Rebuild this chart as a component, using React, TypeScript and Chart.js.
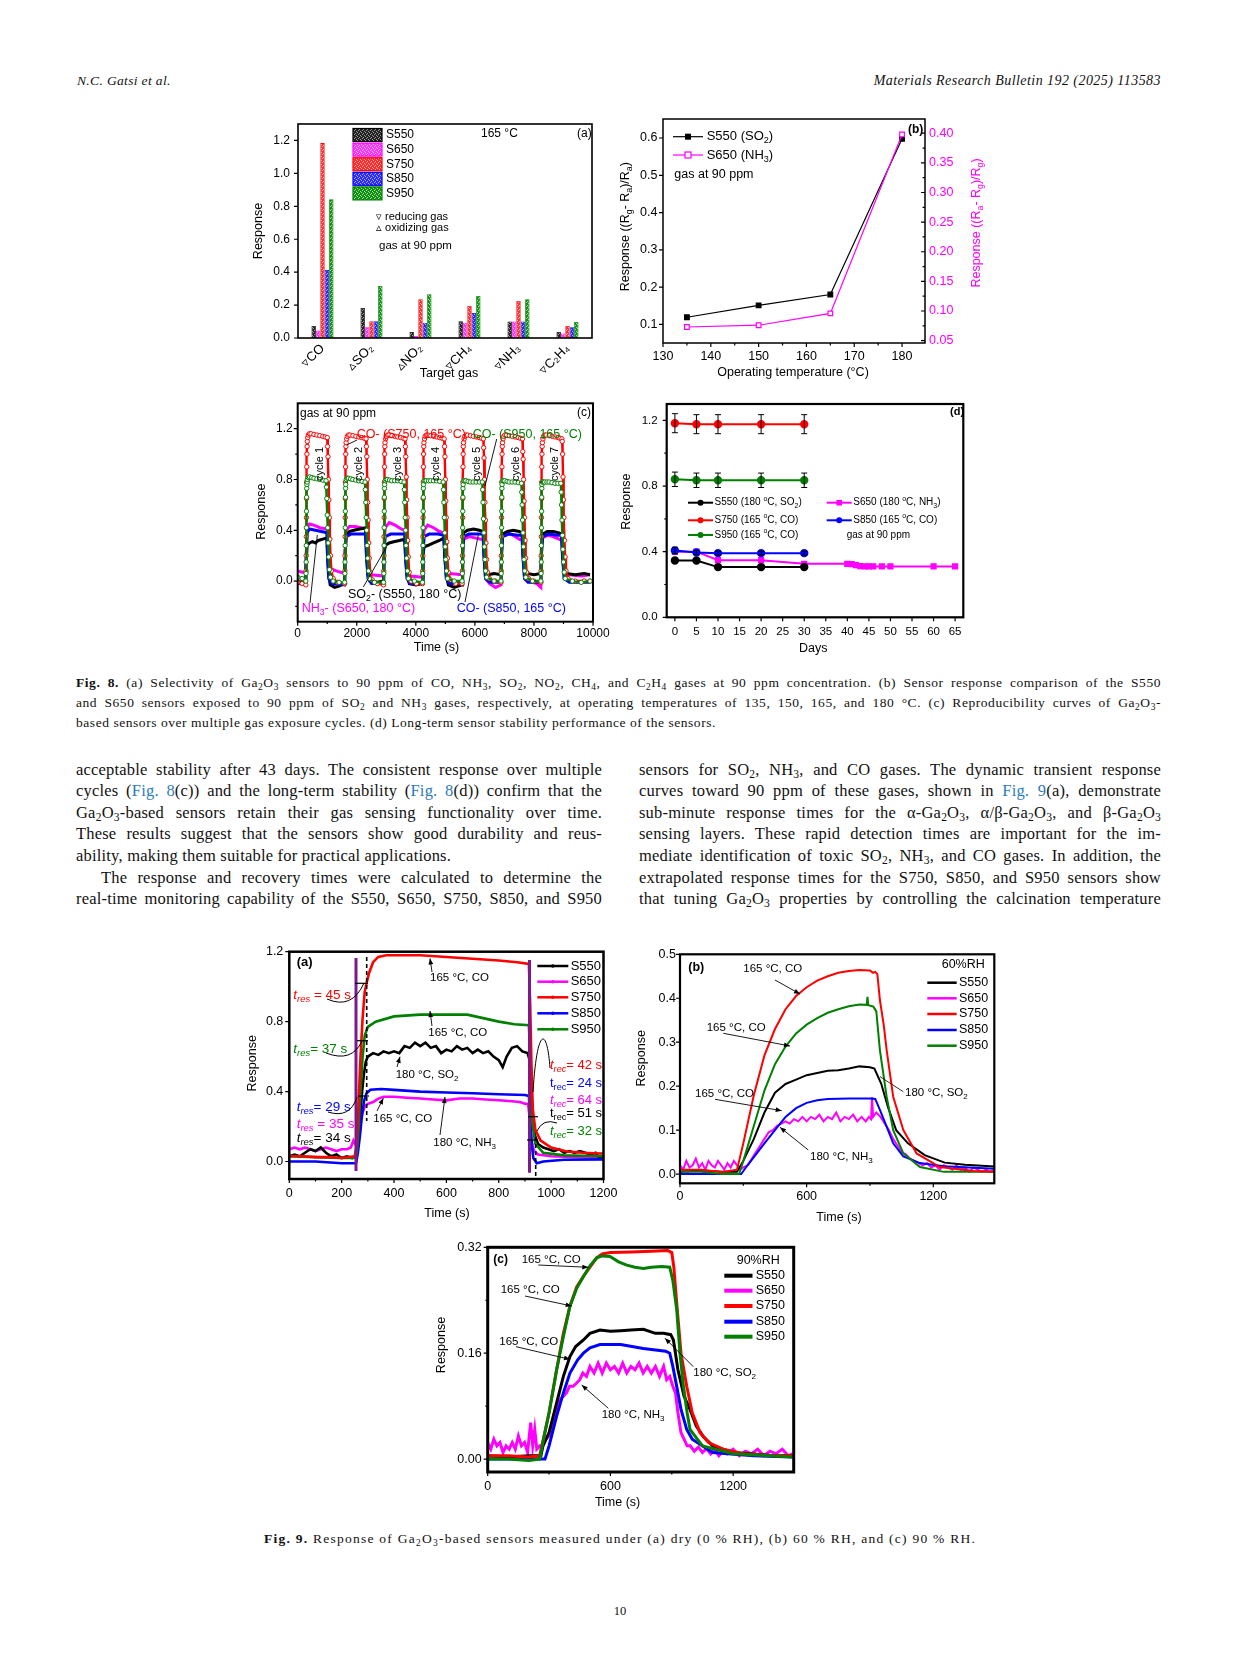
import React, { useEffect, useRef } from 'react';
import { Chart, registerables } from 'chart.js';
Chart.register(...registerables);

const SANS = '"Liberation Sans", Arial, Helvetica, sans-serif';
const SERIF = '"Liberation Serif", "Times New Roman", serif';
const BLK = '#000000', MAG = '#ff00ff', RED = '#ff0000', BLU = '#0000ff', GRN = '#008000', PUR = '#7a1a8c';

// ---------------- Fig 8(a) selectivity ----------------
const SAMPLES = ['S550', 'S650', 'S750', 'S850', 'S950'];
const GASES = ['\u25BFCO', '\u25B5SO\u2082', '\u25B5NO\u2082', '\u25BFCH\u2084', '\u25BFNH\u2083', '\u25BFC\u2082H\u2084'];
const SEL_S550 = [0.073, 0.182, 0.036, 0.101, 0.10, 0.036];
const SEL_S650 = [0.045, 0.065, 0.012, 0.093, 0.10, 0.028];
const SEL_S750 = [1.184, 0.101, 0.235, 0.195, 0.225, 0.073];
const SEL_S850 = [0.414, 0.101, 0.093, 0.152, 0.10, 0.065];
const SEL_S950 = [0.843, 0.316, 0.266, 0.255, 0.235, 0.097];
const BAR_FILL = ['#222222', '#ff33ff', '#ff2a2a', '#2a2aff', '#109010'];
const BAR_LIGHT = ['#9a9a9a', '#ffc0ff', '#ffb0b0', '#b0b0ff', '#a0d8a0'];
const BAR_EDGE = ['#000000', '#ff00ff', '#ff0000', '#0000ff', '#008000'];

// ---------------- Fig 8(b) temperature ----------------
const TEMPS = [135, 150, 165, 180];
const B_S550_SO2 = [0.119, 0.151, 0.18, 0.598];
const B_S650_NH3 = [0.073, 0.076, 0.096, 0.398];

// ---------------- Fig 8(c) cycles [time s, response] ----------------
const C_S750: number[][] = [
  [0,-0.01],[150,-0.02],[275,-0.03],[283,0.08],[287,0.2],[291,0.35],[295,0.5],[299,0.65],[303,0.78],[307,0.9],[312,1.0],[318,1.06],[325,1.1],[340,1.13],[360,1.15],[400,1.16],[450,1.16],[550,1.155],[650,1.15],[750,1.145],[850,1.14],[930,1.135],[1000,1.13],[1012,1.06],[1025,0.98],[1040,0.8],[1055,0.64],[1070,0.5],[1090,0.33],[1110,0.2],[1140,0.08],[1200,0.02],[1350,-0.01],[1590,-0.02],
  [1598,0.08],[1602,0.2],[1606,0.35],[1610,0.5],[1614,0.65],[1618,0.78],[1622,0.9],[1627,1.0],[1633,1.06],[1640,1.09],[1660,1.12],[1680,1.14],[1720,1.15],[1770,1.15],[1870,1.145],[1970,1.14],[2070,1.135],[2170,1.13],[2250,1.125],[2315,1.12],[2327,1.06],[2340,0.98],[2355,0.8],[2370,0.62],[2385,0.48],[2405,0.3],[2425,0.18],[2455,0.07],[2520,0.01],[2700,-0.02],[2908,-0.03],
  [2916,0.08],[2920,0.2],[2924,0.35],[2928,0.5],[2932,0.65],[2936,0.78],[2940,0.9],[2945,1.0],[2951,1.06],[2958,1.09],[2978,1.12],[3000,1.14],[3040,1.15],[3090,1.15],[3190,1.145],[3290,1.14],[3390,1.135],[3490,1.13],[3570,1.125],[3635,1.12],[3647,1.06],[3660,0.98],[3675,0.82],[3690,0.64],[3705,0.5],[3725,0.32],[3745,0.19],[3775,0.07],[3840,0.0],[4020,-0.02],[4225,-0.02],
  [4233,0.08],[4237,0.2],[4241,0.35],[4245,0.5],[4249,0.65],[4253,0.78],[4257,0.9],[4262,1.0],[4268,1.06],[4275,1.09],[4295,1.12],[4317,1.14],[4357,1.15],[4407,1.15],[4507,1.145],[4607,1.14],[4707,1.135],[4807,1.13],[4890,1.125],[4960,1.12],[4972,1.06],[4985,0.98],[5000,0.8],[5015,0.63],[5030,0.5],[5050,0.31],[5070,0.18],[5100,0.07],[5170,0.01],[5350,-0.02],[5566,-0.02],
  [5574,0.08],[5578,0.2],[5582,0.35],[5586,0.5],[5590,0.65],[5594,0.78],[5598,0.9],[5603,1.0],[5609,1.06],[5616,1.09],[5636,1.12],[5658,1.14],[5698,1.15],[5748,1.15],[5848,1.145],[5948,1.14],[6048,1.135],[6148,1.13],[6220,1.125],[6285,1.12],[6297,1.05],[6310,0.97],[6325,0.8],[6340,0.62],[6355,0.48],[6375,0.3],[6395,0.17],[6425,0.07],[6490,0.02],[6680,0.0],[6884,-0.01],
  [6892,0.08],[6896,0.2],[6900,0.35],[6904,0.5],[6908,0.65],[6912,0.78],[6916,0.9],[6921,1.0],[6927,1.06],[6934,1.09],[6954,1.12],[6976,1.14],[7016,1.15],[7066,1.15],[7166,1.145],[7266,1.14],[7366,1.135],[7466,1.13],[7540,1.125],[7610,1.12],[7622,1.02],[7635,0.96],[7650,0.8],[7665,0.63],[7680,0.5],[7700,0.32],[7720,0.18],[7750,0.07],[7815,0.02],[8000,0.0],[8235,-0.01],
  [8243,0.08],[8247,0.2],[8251,0.35],[8255,0.5],[8259,0.65],[8263,0.78],[8267,0.9],[8272,1.0],[8278,1.06],[8285,1.09],[8305,1.12],[8327,1.14],[8367,1.15],[8417,1.15],[8517,1.145],[8617,1.14],[8717,1.135],[8817,1.13],[8880,1.125],[8945,1.12],[8957,1.1],[8970,1.0],[8985,0.82],[9000,0.64],[9015,0.5],[9035,0.32],[9055,0.19],[9085,0.08],[9150,0.02],[9400,0.0],[9700,0.0],[9900,0.0],
];
const C_S950: number[][] = [
  [0,0.03],[150,0.02],[275,0.0],[282,0.06],[286,0.15],[290,0.28],[294,0.42],[298,0.55],[302,0.66],[306,0.73],[310,0.76],[320,0.78],[330,0.8],[360,0.815],[400,0.82],[475,0.815],[550,0.81],[650,0.805],[750,0.8],[850,0.795],[960,0.79],[972,0.74],[985,0.65],[1000,0.52],[1015,0.42],[1030,0.3],[1050,0.19],[1075,0.09],[1110,0.03],[1200,0.0],[1400,-0.01],[1590,-0.01],
  [1598,0.06],[1602,0.15],[1606,0.28],[1610,0.42],[1614,0.55],[1618,0.66],[1622,0.73],[1626,0.76],[1646,0.8],[1680,0.81],[1716,0.81],[1790,0.805],[1866,0.8],[1966,0.795],[2066,0.79],[2180,0.785],[2280,0.78],[2292,0.72],[2305,0.62],[2320,0.5],[2335,0.4],[2350,0.28],[2370,0.18],[2395,0.08],[2430,0.02],[2600,-0.01],[2908,-0.01],
  [2916,0.06],[2920,0.15],[2924,0.28],[2928,0.42],[2932,0.55],[2936,0.66],[2940,0.73],[2944,0.76],[2964,0.79],[3000,0.8],[3034,0.8],[3110,0.795],[3184,0.79],[3284,0.79],[3384,0.79],[3500,0.785],[3600,0.78],[3612,0.72],[3625,0.62],[3640,0.5],[3655,0.4],[3670,0.28],[3690,0.18],[3715,0.08],[3750,0.02],[3950,0.0],[4225,-0.01],
  [4233,0.06],[4237,0.15],[4241,0.28],[4245,0.42],[4249,0.55],[4253,0.66],[4257,0.73],[4261,0.76],[4281,0.79],[4315,0.79],[4351,0.79],[4430,0.79],[4501,0.79],[4600,0.79],[4701,0.79],[4810,0.785],[4925,0.78],[4937,0.72],[4950,0.62],[4965,0.5],[4980,0.38],[4995,0.27],[5015,0.17],[5040,0.08],[5075,0.02],[5300,0.0],[5566,0.0],
  [5574,0.06],[5578,0.15],[5582,0.28],[5586,0.42],[5590,0.55],[5594,0.66],[5598,0.73],[5602,0.76],[5622,0.79],[5660,0.79],[5692,0.79],[5770,0.785],[5842,0.78],[5940,0.78],[6042,0.78],[6150,0.78],[6250,0.78],[6262,0.72],[6275,0.62],[6290,0.49],[6305,0.38],[6320,0.27],[6340,0.17],[6365,0.08],[6400,0.03],[6650,0.0],[6884,0.0],
  [6892,0.06],[6896,0.15],[6900,0.28],[6904,0.42],[6908,0.55],[6912,0.66],[6916,0.73],[6920,0.76],[6940,0.79],[6975,0.79],[7010,0.79],[7090,0.785],[7160,0.78],[7260,0.78],[7360,0.78],[7470,0.775],[7575,0.77],[7587,0.7],[7600,0.6],[7615,0.48],[7630,0.38],[7645,0.27],[7665,0.17],[7690,0.08],[7725,0.03],[7950,0.0],[8235,0.0],
  [8243,0.06],[8247,0.15],[8251,0.28],[8255,0.42],[8259,0.55],[8263,0.66],[8267,0.73],[8271,0.76],[8291,0.78],[8325,0.78],[8361,0.78],[8440,0.78],[8511,0.78],[8610,0.775],[8711,0.77],[8810,0.77],[8910,0.77],[8922,0.7],[8935,0.6],[8950,0.48],[8965,0.36],[8980,0.25],[9000,0.15],[9025,0.07],[9060,0.02],[9300,0.0],[9600,-0.01],[9900,0.0],
];
const C_S550: number[][] = [
  [0,0.0],[150,-0.01],[275,0.0],[290,0.15],[320,0.28],[400,0.3],[500,0.31],[600,0.3],[700,0.32],[850,0.33],[990,0.34],[1010,0.2],[1050,0.05],[1100,-0.03],[1250,-0.05],[1400,-0.04],[1590,-0.02],
  [1605,0.2],[1640,0.36],[1750,0.39],[1900,0.4],[2100,0.41],[2300,0.42],[2330,0.2],[2380,0.05],[2450,0.0],[2700,-0.01],[2908,0.0],
  [2925,0.2],[2960,0.28],[3100,0.3],[3250,0.31],[3450,0.32],[3625,0.33],[3650,0.2],[3700,0.05],[3780,-0.02],[4000,-0.03],[4225,-0.02],
  [4242,0.2],[4280,0.27],[4400,0.28],[4600,0.3],[4800,0.32],[4950,0.34],[4980,0.2],[5030,0.05],[5100,-0.03],[5300,-0.05],[5566,-0.03],
  [5585,0.25],[5620,0.38],[5750,0.4],[5950,0.41],[6150,0.4],[6280,0.39],[6310,0.22],[6360,0.08],[6450,0.05],[6650,0.06],[6884,0.05],
  [6903,0.25],[6940,0.37],[7100,0.39],[7300,0.4],[7500,0.39],[7600,0.38],[7630,0.22],[7680,0.08],[7760,0.06],[8000,0.05],[8235,0.06],
  [8253,0.25],[8290,0.37],[8450,0.39],[8650,0.39],[8850,0.38],[8940,0.37],[8970,0.22],[9020,0.08],[9100,0.06],[9400,0.05],[9700,0.06],[9900,0.05],
];
const C_S650: number[][] = [
  [0,0.08],[150,0.07],[270,0.07],[290,0.2],[320,0.42],[400,0.45],[550,0.44],[750,0.42],[990,0.41],[1010,0.25],[1050,0.12],[1100,0.1],[1300,0.08],[1590,0.06],
  [1605,0.25],[1640,0.4],[1750,0.43],[1950,0.43],[2150,0.42],[2300,0.41],[2330,0.25],[2380,0.08],[2500,0.05],[2908,0.04],
  [2925,0.25],[2960,0.42],[3100,0.46],[3300,0.44],[3500,0.41],[3625,0.4],[3650,0.25],[3700,0.08],[3800,0.04],[4225,0.03],
  [4242,0.25],[4280,0.4],[4400,0.44],[4600,0.42],[4800,0.39],[4950,0.38],[4980,0.22],[5030,0.08],[5150,0.06],[5566,0.05],
  [5585,0.22],[5620,0.33],[5800,0.35],[6000,0.34],[6200,0.33],[6280,0.33],[6310,0.18],[6360,0.02],[6500,-0.02],[6700,-0.05],[6884,-0.03],
  [6903,0.22],[6940,0.36],[7100,0.38],[7300,0.36],[7500,0.33],[7600,0.32],[7630,0.18],[7680,0.03],[7800,0.0],[8100,-0.02],[8235,-0.05],
  [8253,0.22],[8290,0.34],[8450,0.36],[8650,0.35],[8850,0.33],[8940,0.32],[8970,0.18],[9020,0.06],[9200,0.05],[9600,0.04],[9900,0.05],
];
const C_S850: number[][] = [
  [0,-0.02],[270,-0.02],[290,0.2],[320,0.38],[400,0.41],[600,0.4],[800,0.39],[990,0.38],[1010,0.2],[1050,0.02],[1150,-0.02],[1590,-0.03],
  [1605,0.2],[1640,0.35],[1800,0.37],[2100,0.37],[2300,0.37],[2330,0.2],[2380,0.02],[2500,-0.02],[2908,-0.02],
  [2925,0.2],[2960,0.35],[3150,0.37],[3450,0.37],[3625,0.37],[3650,0.2],[3700,0.02],[3800,-0.02],[4225,-0.02],
  [4242,0.2],[4280,0.35],[4450,0.37],[4750,0.37],[4950,0.36],[4980,0.2],[5030,0.02],[5150,-0.02],[5566,-0.02],
  [5585,0.2],[5620,0.35],[5800,0.37],[6100,0.37],[6280,0.37],[6310,0.2],[6360,0.02],[6500,-0.01],[6884,-0.01],
  [6903,0.2],[6940,0.35],[7150,0.37],[7450,0.36],[7600,0.36],[7630,0.2],[7680,0.02],[7800,-0.01],[8235,-0.01],
  [8253,0.2],[8290,0.35],[8500,0.37],[8800,0.36],[8940,0.36],[8970,0.2],[9020,0.02],[9200,-0.01],[9900,-0.01],
];

// ---------------- Fig 8(d) stability ----------------
const DAYS = [0, 5, 10, 20, 30];
const D_S750 = [1.183, 1.177, 1.177, 1.177, 1.177];
const D_S750_ERR = [0.058, 0.058, 0.058, 0.058, 0.058];
const D_S950 = [0.841, 0.835, 0.835, 0.835, 0.835];
const D_S950_ERR = [0.044, 0.044, 0.044, 0.044, 0.044];
const D_S850 = [0.407, 0.395, 0.391, 0.391, 0.391];
const D_S850_ERR = [0.02, 0.012, 0.012, 0.012, 0.012];
const D_S550 = [0.346, 0.346, 0.306, 0.306, 0.306];
const DAYS_S650 = [0, 5, 10, 20, 30, 40, 41, 42, 43, 44, 45, 46, 48, 50, 60, 65];
const D_S650 = [0.40, 0.40, 0.348, 0.348, 0.326, 0.326, 0.324, 0.318, 0.312, 0.31, 0.31, 0.31, 0.31, 0.31, 0.31, 0.31];

// ---------------- Fig 9(a) dry ----------------
const A_S550: number[][] = [[0,0.03],[20,0.04],[40,0.03],[60,0.05],[80,0.07],[100,0.06],[120,0.08],[140,0.05],[160,0.03],[180,0.04],[200,0.02],[220,0.03],[240,0.02],[255,0.03],[262,0.1],[270,0.25],[278,0.4],[285,0.5],[292,0.57],[300,0.6],[320,0.62],[340,0.61],[360,0.63],[380,0.62],[400,0.63],[420,0.62],[440,0.66],[460,0.65],[480,0.68],[500,0.66],[520,0.68],[540,0.65],[560,0.66],[580,0.62],[600,0.64],[620,0.63],[640,0.66],[660,0.64],[680,0.65],[700,0.62],[720,0.64],[740,0.62],[760,0.63],[780,0.6],[800,0.58],[815,0.54],[830,0.6],[850,0.65],[870,0.66],[890,0.63],[910,0.62],[918,0.58],[924,0.4],[930,0.25],[938,0.15],[950,0.1],[970,0.08],[990,0.07],[1010,0.06],[1030,0.07],[1050,0.05],[1070,0.06],[1090,0.05],[1110,0.06],[1130,0.05],[1150,0.04],[1170,0.05],[1185,0.02],[1200,0.03]];
const A_S650: number[][] = [[0,0.07],[20,0.08],[40,0.07],[60,0.08],[80,0.07],[100,0.06],[120,0.07],[140,0.08],[160,0.07],[180,0.06],[200,0.07],[220,0.07],[235,0.08],[245,0.12],[252,0.1],[260,0.15],[270,0.22],[280,0.28],[290,0.32],[300,0.33],[320,0.34],[340,0.36],[360,0.37],[400,0.37],[450,0.365],[500,0.36],[550,0.355],[600,0.35],[650,0.36],[700,0.36],[750,0.355],[800,0.35],[850,0.345],[880,0.34],[900,0.33],[912,0.33],[918,0.25],[925,0.12],[935,0.06],[950,0.04],[1000,0.03],[1100,0.025],[1200,0.02]];
const A_S750: number[][] = [[0,0.03],[50,0.03],[100,0.025],[150,0.025],[200,0.02],[250,0.03],[258,0.1],[265,0.35],[272,0.6],[280,0.82],[288,0.97],[295,1.02],[305,1.08],[320,1.14],[340,1.17],[370,1.18],[420,1.18],[500,1.18],[600,1.17],[700,1.16],[800,1.15],[870,1.14],[915,1.13],[920,0.9],[925,0.55],[930,0.3],[940,0.18],[960,0.12],[1000,0.08],[1060,0.057],[1120,0.05],[1187,0.046],[1200,0.045]];
const A_S850: number[][] = [[0,0.0],[100,0.0],[200,-0.01],[255,-0.01],[262,0.05],[270,0.15],[278,0.27],[286,0.35],[295,0.39],[310,0.41],[350,0.415],[400,0.41],[500,0.40],[600,0.395],[700,0.39],[800,0.385],[900,0.38],[915,0.375],[920,0.25],[926,0.1],[932,0.02],[945,-0.01],[970,0.0],[1050,0.01],[1200,0.012]];
const A_S950: number[][] = [[0,0.03],[100,0.025],[200,0.02],[252,0.02],[258,0.05],[265,0.2],[272,0.4],[280,0.6],[288,0.72],[300,0.77],[330,0.8],[400,0.83],[500,0.84],[600,0.84],[680,0.84],[740,0.82],[800,0.8],[860,0.785],[915,0.78],[920,0.6],[925,0.35],[930,0.2],[940,0.1],[970,0.05],[1050,0.035],[1200,0.03]];

// ---------------- Fig 9(b) 60 % RH ----------------
const B9_S550: number[][] = [[0,0.005],[100,0.008],[200,0.005],[270,0.005],[300,0.03],[350,0.08],[400,0.14],[450,0.185],[500,0.205],[550,0.215],[600,0.225],[650,0.23],[700,0.235],[750,0.236],[800,0.24],[850,0.245],[900,0.243],[921,0.24],[953,0.206],[985,0.153],[1024,0.1],[1080,0.07],[1159,0.043],[1254,0.026],[1350,0.021],[1490,0.017]];
const B9_S650: number[][] = [[0,0.02],[15,0.01],[30,0.03],[45,0.015],[60,0.02],[75,0.035],[90,0.015],[105,0.025],[120,0.01],[135,0.03],[150,0.02],[165,0.015],[180,0.03],[195,0.02],[210,0.01],[225,0.025],[240,0.015],[255,0.03],[270,0.02],[285,0.01],[300,0.015],[320,0.02],[340,0.035],[360,0.05],[380,0.065],[400,0.08],[420,0.095],[440,0.1],[460,0.11],[480,0.115],[500,0.12],[520,0.115],[540,0.125],[560,0.12],[580,0.13],[600,0.12],[620,0.13],[640,0.125],[660,0.135],[680,0.12],[700,0.13],[720,0.125],[740,0.14],[760,0.12],[780,0.13],[800,0.125],[820,0.135],[840,0.12],[860,0.13],[880,0.12],[895,0.13],[905,0.125],[910,0.175],[915,0.13],[930,0.14],[950,0.13],[970,0.115],[990,0.1],[1010,0.08],[1030,0.065],[1050,0.05],[1070,0.045],[1090,0.035],[1110,0.03],[1130,0.025],[1150,0.02],[1170,0.025],[1190,0.015],[1210,0.02],[1230,0.01],[1250,0.02],[1270,0.015],[1290,0.01],[1310,0.02],[1330,0.01],[1350,0.015],[1370,0.005],[1390,0.015],[1410,0.01],[1430,0.005],[1450,0.01],[1470,0.005],[1490,0.01]];
const B9_S750: number[][] = [[0,0.01],[100,0.01],[200,0.005],[270,0.01],[300,0.07],[350,0.18],[400,0.27],[450,0.33],[500,0.375],[550,0.405],[600,0.425],[650,0.44],[700,0.45],[750,0.458],[800,0.462],[850,0.464],[900,0.463],[915,0.458],[925,0.46],[935,0.455],[947,0.396],[965,0.34],[979,0.282],[1010,0.176],[1058,0.1],[1121,0.047],[1231,0.016],[1389,0.007],[1490,0.005]];
const B9_S850: number[][] = [[0,0.0],[100,0.0],[200,0.0],[290,0.0],[320,0.02],[360,0.045],[400,0.07],[450,0.1],[500,0.13],[550,0.15],[600,0.162],[650,0.168],[700,0.171],[800,0.172],[900,0.172],[925,0.171],[947,0.146],[979,0.108],[1010,0.07],[1058,0.04],[1137,0.025],[1250,0.018],[1490,0.012]];
const B9_S950: number[][] = [[0,0.005],[100,0.005],[200,0.0],[280,0.0],[300,0.03],[350,0.11],[400,0.19],[450,0.25],[500,0.29],[550,0.32],[600,0.34],[650,0.355],[700,0.367],[750,0.375],[800,0.382],[850,0.386],[885,0.385],[888,0.403],[892,0.384],[916,0.381],[930,0.37],[947,0.282],[979,0.176],[1010,0.1],[1058,0.047],[1137,0.016],[1250,0.005],[1490,0.005]];

// ---------------- Fig 9(c) 90 % RH ----------------
const C9_S550: number[][] = [[0,0.005],[100,0.003],[200,0.005],[260,0.005],[270,0.02],[300,0.04],[337,0.085],[370,0.125],[402,0.155],[430,0.17],[468,0.18],[500,0.19],[549,0.195],[600,0.193],[650,0.194],[700,0.195],[761,0.196],[820,0.19],[860,0.19],[895,0.188],[908,0.18],[930,0.135],[960,0.095],[989,0.075],[1020,0.05],[1054,0.034],[1100,0.02],[1200,0.01],[1400,0.005],[1490,0.005]];
const C9_S650: number[][] = [[0,0.025],[15,0.015],[30,0.03],[45,0.02],[60,0.025],[75,0.01],[90,0.02],[105,0.015],[120,0.025],[135,0.015],[150,0.035],[165,0.02],[180,0.025],[195,0.01],[210,0.055],[220,0.02],[230,0.045],[240,0.015],[255,0.02],[270,0.02],[285,0.03],[300,0.035],[315,0.05],[330,0.06],[353,0.09],[370,0.095],[385,0.1],[400,0.11],[418,0.11],[435,0.115],[450,0.12],[465,0.13],[483,0.125],[500,0.14],[520,0.13],[540,0.145],[560,0.13],[580,0.145],[600,0.135],[620,0.14],[640,0.13],[660,0.145],[680,0.13],[700,0.14],[720,0.135],[740,0.145],[760,0.13],[780,0.14],[800,0.13],[820,0.14],[840,0.125],[860,0.14],[875,0.12],[890,0.125],[905,0.11],[918,0.1],[930,0.07],[945,0.04],[960,0.03],[975,0.02],[990,0.02],[1010,0.012],[1030,0.018],[1050,0.01],[1070,0.016],[1090,0.008],[1110,0.015],[1130,0.005],[1150,0.012],[1170,0.008],[1200,0.015],[1230,0.005],[1260,0.012],[1290,0.008],[1320,0.015],[1350,0.005],[1380,0.012],[1410,0.008],[1440,0.015],[1470,0.005],[1490,0.008]];
const C9_S750: number[][] = [[0,0.005],[100,0.005],[200,0.003],[254,0.005],[272,0.03],[300,0.07],[337,0.135],[370,0.19],[402,0.231],[435,0.26],[468,0.276],[500,0.29],[533,0.304],[560,0.31],[600,0.312],[700,0.313],[800,0.314],[880,0.315],[900,0.312],[910,0.29],[924,0.236],[945,0.16],[973,0.11],[1000,0.07],[1038,0.04],[1080,0.025],[1150,0.015],[1250,0.008],[1400,0.005],[1490,0.005]];
const C9_S850: number[][] = [[0,0.0],[100,0.0],[200,0.0],[280,0.0],[300,0.02],[337,0.065],[370,0.1],[402,0.13],[440,0.15],[468,0.16],[500,0.168],[549,0.173],[650,0.173],[761,0.167],[870,0.163],[890,0.16],[905,0.14],[924,0.11],[945,0.075],[973,0.045],[1000,0.03],[1100,0.01],[1300,0.005],[1490,0.003]];
const C9_S950: number[][] = [[0,0.0],[100,0.0],[200,-0.002],[254,0.0],[272,0.029],[300,0.07],[337,0.135],[370,0.185],[402,0.231],[435,0.258],[468,0.276],[500,0.292],[533,0.304],[560,0.307],[598,0.306],[640,0.298],[680,0.293],[720,0.29],[761,0.288],[800,0.29],[850,0.291],[890,0.29],[905,0.27],[924,0.226],[940,0.16],[957,0.11],[975,0.07],[989,0.045],[1050,0.02],[1200,0.008],[1490,0.003]];

// ---------------- page text ----------------
const HEADER_L = 'N.C. Gatsi et al.';
const HEADER_R = 'Materials Research Bulletin 192 (2025) 113583';
const CAP8 = [
  '**Fig. 8.** (a) Selectivity of Ga_{2}O_{3} sensors to 90 ppm of CO, NH_{3}, SO_{2}, NO_{2}, CH_{4}, and C_{2}H_{4} gases at 90 ppm concentration. (b) Sensor response comparison of the S550',
  'and S650 sensors exposed to 90 ppm of SO_{2} and NH_{3} gases, respectively, at operating temperatures of 135, 150, 165, and 180 °C. (c) Reproducibility curves of Ga_{2}O_{3}-',
  'based sensors over multiple gas exposure cycles. (d) Long-term sensor stability performance of the sensors.',
];
const BODY_L = [
  'acceptable stability after 43 days. The consistent response over multiple',
  'cycles ([[Fig. 8]](c)) and the long-term stability ([[Fig. 8]](d)) confirm that the',
  'Ga_{2}O_{3}-based sensors retain their gas sensing functionality over time.',
  'These results suggest that the sensors show good durability and reus-',
  'ability, making them suitable for practical applications.',
  'The response and recovery times were calculated to determine the',
  'real-time monitoring capability of the S550, S650, S750, S850, and S950',
];
const BODY_R = [
  'sensors for SO_{2}, NH_{3}, and CO gases. The dynamic transient response',
  'curves toward 90 ppm of these gases, shown in [[Fig. 9]](a), demonstrate',
  'sub-minute response times for the α-Ga_{2}O_{3}, α/β-Ga_{2}O_{3}, and β-Ga_{2}O_{3}',
  'sensing layers. These rapid detection times are important for the im-',
  'mediate identification of toxic SO_{2}, NH_{3}, and CO gases. In addition, the',
  'extrapolated response times for the S750, S850, and S950 sensors show',
  'that tuning Ga_{2}O_{3} properties by controlling the calcination temperature',
];
const CAP9 = '**Fig. 9.** Response of Ga_{2}O_{3}-based sensors measured under (a) dry (0 % RH), (b) 60 % RH, and (c) 90 % RH.';

// ---------------- drawing helpers ----------------
function parseRich(s: string) {
  const segs: any[] = [];
  let buf = '';
  let i = 0;
  const flush = () => { if (buf) segs.push({ t: buf, m: 'n', it: false }); buf = ''; };
  while (i < s.length) {
    const c = s[i];
    if ('_^~='.includes(c) && s[i + 1] === '{') {
      flush();
      const e = s.indexOf('}', i + 2);
      const inner = s.slice(i + 2, e);
      segs.push({ t: inner, m: c === '_' || c === '=' ? 'sub' : c === '^' ? 'sup' : 'n', it: c === '~' || c === '=' });
      i = e + 1;
    } else { buf += c; i++; }
  }
  flush();
  return segs;
}

function drawRich(ctx: any, s: string, x: number, y: number, o: any) {
  const size = o.size || 12;
  const fam = o.fam || SANS;
  const segs = parseRich(s);
  const font = (sg: any) => `${sg.it ? 'italic ' : ''}${o.bold ? 'bold ' : ''}${sg.m === 'n' ? size : size * 0.7}px ${fam}`;
  let w = 0;
  for (const sg of segs) { ctx.font = font(sg); sg.w = ctx.measureText(sg.t).width; w += sg.w; }
  ctx.save();
  ctx.translate(x, y);
  if (o.rot) ctx.rotate(o.rot);
  let cx = o.align === 'center' ? -w / 2 : o.align === 'right' ? -w : 0;
  ctx.fillStyle = o.color || '#000';
  ctx.textBaseline = 'middle';
  ctx.textAlign = 'left';
  for (const sg of segs) {
    ctx.font = font(sg);
    const dy = sg.m === 'sub' ? size * 0.32 : sg.m === 'sup' ? -size * 0.38 : 0;
    ctx.fillText(sg.t, cx, dy);
    cx += sg.w;
  }
  ctx.restore();
}

function drawItem(ctx: any, it: any, ox: number, oy: number) {
  ctx.save();
  const col = it.color || '#000';
  if (it.t === 'text') {
    drawRich(ctx, it.s, it.x - ox, it.y - oy, it);
  } else if (it.t === 'line') {
    ctx.strokeStyle = col; ctx.lineWidth = it.w || 1;
    if (it.dash) ctx.setLineDash(it.dash);
    ctx.beginPath();
    it.pts.forEach((p: number[], i: number) => (i ? ctx.lineTo(p[0] - ox, p[1] - oy) : ctx.moveTo(p[0] - ox, p[1] - oy)));
    ctx.stroke();
    if (it.arrow) {
      const n = it.pts.length;
      const [x1, y1] = it.pts[n - 2];
      const [x2, y2] = it.pts[n - 1];
      const a = Math.atan2(y2 - y1, x2 - x1);
      const L = it.hl || 6, W = it.hw || 2.4;
      const ex = x2 - ox, ey = y2 - oy;
      ctx.setLineDash([]);
      ctx.fillStyle = col;
      ctx.beginPath();
      ctx.moveTo(ex, ey);
      ctx.lineTo(ex - L * Math.cos(a) + W * Math.sin(a), ey - L * Math.sin(a) - W * Math.cos(a));
      ctx.lineTo(ex - L * Math.cos(a) - W * Math.sin(a), ey - L * Math.sin(a) + W * Math.cos(a));
      ctx.closePath();
      ctx.fill();
    }
  } else if (it.t === 'curve') {
    ctx.strokeStyle = col; ctx.lineWidth = it.w || 1;
    const p = it.pts.map((q: number[]) => [q[0] - ox, q[1] - oy]);
    ctx.beginPath();
    ctx.moveTo(p[0][0], p[0][1]);
    if (p.length === 3) ctx.quadraticCurveTo(p[1][0], p[1][1], p[2][0], p[2][1]);
    else ctx.bezierCurveTo(p[1][0], p[1][1], p[2][0], p[2][1], p[3][0], p[3][1]);
    ctx.stroke();
  } else if (it.t === 'rect') {
    ctx.fillStyle = it.fill;
    ctx.fillRect(it.x - ox, it.y - oy, it.w, it.h);
    if (it.stroke) { ctx.strokeStyle = it.stroke; ctx.lineWidth = it.lw || 1.2; ctx.strokeRect(it.x - ox, it.y - oy, it.w, it.h); }
  } else if (it.t === 'leg') {
    ctx.strokeStyle = col; ctx.lineWidth = it.w || 1.5;
    ctx.beginPath(); ctx.moveTo(it.x1 - ox, it.y - oy); ctx.lineTo(it.x2 - ox, it.y - oy); ctx.stroke();
    const mx = (it.x1 + it.x2) / 2 - ox, my = it.y - oy, r = it.ms || 3;
    if (it.mk === 'sq') { ctx.fillStyle = col; ctx.fillRect(mx - r, my - r, 2 * r, 2 * r); }
    else if (it.mk === 'osq') { ctx.fillStyle = '#fff'; ctx.fillRect(mx - r, my - r, 2 * r, 2 * r); ctx.lineWidth = 1.2; ctx.strokeRect(mx - r, my - r, 2 * r, 2 * r); }
    else if (it.mk === 'circ') { ctx.fillStyle = col; ctx.beginPath(); ctx.arc(mx, my, r, 0, Math.PI * 2); ctx.fill(); }
  }
  ctx.restore();
}

function makeAnn(box: number[], items: any[], frame: any, errbars: boolean) {
  return {
    id: 'ann',
    afterDatasetsDraw(chart: any) {
      const ctx = chart.ctx;
      const ca = chart.chartArea;
      if (errbars) {
        chart.data.datasets.forEach((ds: any, i: number) => {
          if (!ds.errs) return;
          const meta = chart.getDatasetMeta(i);
          const ys = chart.scales[meta.yAxisID];
          ctx.save(); ctx.strokeStyle = '#000'; ctx.lineWidth = 1;
          ds.data.forEach((d: any, j: number) => {
            const e = ds.errs[j]; if (!e) return;
            const x = meta.data[j].x;
            const y1 = ys.getPixelForValue(d.y + e), y2 = ys.getPixelForValue(d.y - e);
            ctx.beginPath();
            ctx.moveTo(x, y1); ctx.lineTo(x, y2);
            ctx.moveTo(x - 3, y1); ctx.lineTo(x + 3, y1);
            ctx.moveTo(x - 3, y2); ctx.lineTo(x + 3, y2);
            ctx.stroke();
          });
          ctx.restore();
        });
      }
      if (frame) {
        ctx.save();
        ctx.strokeStyle = '#000';
        ctx.lineWidth = frame.lw;
        ctx.strokeRect(ca.left, ca.top, ca.right - ca.left, ca.bottom - ca.top);
        ctx.lineWidth = frame.tw || 1.2;
        const tl = frame.tl || 4;
        const draw = (s: any, vals: number[], len: number) => {
          ctx.beginPath();
          for (const v of vals) {
            const p = s.getPixelForValue(v);
            if (s.axis === 'x') { ctx.moveTo(p, ca.bottom); ctx.lineTo(p, ca.bottom + len); }
            else if (s.position === 'right') { ctx.moveTo(ca.right, p); ctx.lineTo(ca.right - len, p); }
            else { ctx.moveTo(ca.left, p); ctx.lineTo(ca.left - len, p); }
          }
          ctx.stroke();
        };
        for (const id of Object.keys(chart.scales)) {
          const s = chart.scales[id];
          if (s.type === 'category') continue;
          draw(s, s.ticks.map((t: any) => t.value), tl);
          const mn = frame.minor && frame.minor[id];
          if (mn) draw(s, mn, tl * 0.6);
        }
        ctx.restore();
      }
      for (const it of items) drawItem(ctx, it, box[0], box[1]);
    },
  };
}

function linAxis(min: number, max: number, ticks: number[], dec: number, size: number, pad: number, extra: any = {}) {
  return {
    type: 'linear',
    min, max,
    position: extra.position,
    afterBuildTicks: (s: any) => { s.ticks = ticks.map((v) => ({ value: v })); },
    grid: { display: false, drawTicks: false },
    border: { display: false },
    ticks: {
      color: extra.color || '#000',
      font: { family: SANS, size },
      padding: pad,
      autoSkip: false,
      maxRotation: 0,
      minRotation: 0,
      callback: (v: any) => Number(v).toFixed(dec),
    },
  };
}

function mk(box: number[], area: number[], type: string, datasets: any[], labels: any, scales: any, items: any[], frame: any, errbars = false) {
  const [cx, cy, cw, ch] = box;
  const [L, T, R, B] = area;
  for (const k of Object.keys(scales)) {
    if (k === 'x') scales[k].afterFit = (sc: any) => { sc.height = cy + ch - B; };
    else if (k === 'y2') scales[k].afterFit = (sc: any) => { sc.width = cx + cw - R; };
    else scales[k].afterFit = (sc: any) => { sc.width = L - cx; };
  }
  // line datasets are listed bottom-to-top; bar datasets keep left-to-right order
  if (type === 'line') datasets.forEach((d, i) => { d.order = datasets.length - i; });
  else datasets.forEach((d, i) => { d.order = i; });
  return {
    type,
    data: labels ? { labels, datasets } : { datasets },
    options: {
      responsive: false,
      maintainAspectRatio: false,
      animation: false,
      events: [],
      layout: { padding: { left: 0, top: T - cy, right: scales.y2 ? 0 : cx + cw - R, bottom: 0 } },
      plugins: { legend: { display: false }, tooltip: { enabled: false }, title: { display: false } },
      scales,
    },
    plugins: [makeAnn(box, items, frame, errbars)],
  };
}

const xy = (pts: number[][]) => pts.map(([x, y]) => ({ x, y }));
const zipXY = (xs: number[], ys: number[]) => xs.map((x, i) => ({ x, y: ys[i] }));
function ln(data: any[], color: string, w: number, extra: any = {}) {
  return { data, borderColor: color, backgroundColor: color, borderWidth: w, pointRadius: 0, tension: 0, fill: false, ...extra };
}
const txt = (x: number, y: number, s: string, o: any = {}) => ({ t: 'text', x, y, s, ...o });
const arr = (pts: number[][], o: any = {}) => ({ t: 'line', pts, arrow: true, w: 0.9, ...o });
const ROT = -Math.PI / 2;

function pattern(base: string, light: string) {
  const c = document.createElement('canvas');
  c.width = 4; c.height = 4;
  const g = c.getContext('2d') as CanvasRenderingContext2D;
  g.fillStyle = base; g.fillRect(0, 0, 4, 4);
  g.fillStyle = light;
  g.fillRect(0, 0, 1, 1); g.fillRect(2, 1, 1, 1); g.fillRect(1, 2, 1, 1); g.fillRect(3, 3, 1, 1);
  return g.createPattern(c, 'repeat');
}

// ---------------- panels ----------------
const BOX_8A = [225, 100, 380, 290], AREA_8A = [298, 124, 592, 338];
function build8a() {
  const pats = SAMPLES.map((_, i) => pattern(BAR_FILL[i], BAR_LIGHT[i]));
  const vals = [SEL_S550, SEL_S650, SEL_S750, SEL_S850, SEL_S950];
  const datasets = SAMPLES.map((s, i) => ({
    label: s, data: vals[i], backgroundColor: pats[i], borderColor: BAR_EDGE[i], borderWidth: 0.8,
    categoryPercentage: 0.45, barPercentage: 1.0, grouped: true,
  }));
  const items: any[] = [
    ...SAMPLES.map((s, i) => ({ t: 'rect', x: 353, y: 128.5 + 14.6 * i, w: 29, h: 13, fill: pats[i], stroke: BAR_EDGE[i] })),
    ...SAMPLES.map((s, i) => txt(386, 135 + 14.6 * i, s, { size: 12 })),
    txt(481, 134, '165 °C', { size: 12 }),
    txt(577, 134, '(a)', { size: 12 }),
    txt(376, 216.7, '\u25BF reducing gas', { size: 11 }),
    txt(376, 228.3, '\u25B5 oxidizing gas', { size: 11 }),
    txt(379, 245.7, 'gas at 90 ppm', { size: 11.5 }),
    txt(259, 231, 'Response', { size: 12.5, rot: ROT, align: 'center' }),
    txt(449, 374, 'Target gas', { size: 12.5, align: 'center' }),
  ];
  const scales: any = {
    x: {
      type: 'category', reverse: false, grid: { display: false, drawTicks: false }, border: { display: false },
      ticks: { color: '#000', font: { family: SANS, size: 13 }, maxRotation: 45, minRotation: 45, padding: 3, autoSkip: false },
    },
    y: linAxis(0, 1.3, [0, 0.2, 0.4, 0.6, 0.8, 1.0, 1.2], 1, 12, 8),
  };
  return mk(BOX_8A, AREA_8A, 'bar', datasets, GASES, scales, items, { lw: 1.6, tl: 4 });
}

const BOX_8B = [585, 100, 410, 290], AREA_8B = [663, 119, 925, 343];
function build8b() {
  const datasets = [
    ln(zipXY(TEMPS, B_S550_SO2), BLK, 1.2, { pointRadius: 3.3, pointStyle: 'rect', pointBackgroundColor: BLK, yAxisID: 'y' }),
    ln(zipXY(TEMPS, B_S650_NH3), MAG, 1.2, { pointRadius: 3.3, pointStyle: 'rect', pointBackgroundColor: '#fff', pointBorderColor: MAG, pointBorderWidth: 1.2, yAxisID: 'y2' }),
  ];
  const items: any[] = [
    { t: 'leg', x1: 673, x2: 703, y: 136.7, color: BLK, w: 1.2, mk: 'sq', ms: 3 },
    txt(706.7, 136.7, 'S550 (SO_{2})', { size: 13 }),
    { t: 'leg', x1: 673, x2: 703, y: 155, color: MAG, w: 1.2, mk: 'osq', ms: 3 },
    txt(706.7, 155, 'S650 (NH_{3})', { size: 13 }),
    txt(674.3, 175, 'gas at 90 ppm', { size: 12.5 }),
    txt(908, 130, '(b)', { size: 12, bold: true }),
    txt(625.7, 226.7, 'Response ((R_{g}- R_{a})/R_{a})', { size: 12.5, rot: ROT, align: 'center' }),
    txt(977, 223, 'Response ((R_{a}- R_{g})/R_{g})', { size: 12.5, rot: ROT, align: 'center', color: MAG }),
    txt(793, 373, 'Operating temperature (°C)', { size: 12.5, align: 'center' }),
  ];
  const scales: any = {
    x: linAxis(130, 184.8, [130, 140, 150, 160, 170, 180], 0, 12.5, 6),
    y: linAxis(0.05, 0.651, [0.1, 0.2, 0.3, 0.4, 0.5, 0.6], 1, 12.5, 5.5),
    y2: linAxis(0.046, 0.424, [0.05, 0.1, 0.15, 0.2, 0.25, 0.3, 0.35, 0.4], 2, 12.5, 4, { position: 'right', color: MAG }),
  };
  return mk(BOX_8B, AREA_8B, 'line', datasets, null, scales, items, {
    lw: 1.5, tl: 4,
    minor: { x: [135, 145, 155, 165, 175], y2: [0.075, 0.125, 0.175, 0.225, 0.275, 0.325, 0.375] },
  });
}

const BOX_8C = [225, 385, 392, 275], AREA_8C = [297.7, 403.3, 593, 621.7];
function build8c() {
  const circ = (c: string) => ({ pointRadius: 2.2, pointBackgroundColor: '#fff', pointBorderColor: c, pointBorderWidth: 1 });
  const datasets = [
    ln(xy(C_S650), MAG, 3),
    ln(xy(C_S550), BLK, 3),
    ln(xy(C_S850), BLU, 3),
    ln(xy(C_S750), RED, 2.4, circ(RED)),
    ln(xy(C_S950), GRN, 2.4, circ(GRN)),
  ];
  const cyc = [320, 359.3, 398.3, 435.7, 476.7, 515.7, 555];
  const items: any[] = [
    txt(300, 413.3, 'gas at 90 ppm', { size: 12 }),
    txt(577, 413, '(c)', { size: 12 }),
    txt(356.7, 435, 'CO- (S750, 165 °C)', { size: 12.5, color: RED }),
    txt(472.7, 435, 'CO- (S950, 165 °C)', { size: 12.5, color: GRN }),
    txt(348, 595, 'SO_{2}- (S550, 180 °C)', { size: 12.5 }),
    txt(301.7, 608.3, 'NH_{3}- (S650, 180 °C)', { size: 12.5, color: MAG }),
    txt(456.7, 608.3, 'CO- (S850, 165 °C)', { size: 12.5, color: BLU }),
    { t: 'line', pts: [[357, 440], [346.7, 445]], w: 0.9 },
    { t: 'line', pts: [[496.7, 439], [485, 486]], w: 0.9 },
    { t: 'line', pts: [[363.3, 587], [386.7, 546.7]], w: 0.9 },
    { t: 'line', pts: [[465, 602], [478.3, 535]], w: 0.9 },
    { t: 'line', pts: [[310, 603], [317.3, 535]], w: 0.9 },
    ...cyc.map((x, i) => txt(x, 464, `cycle ${i + 1}`, { size: 11, rot: ROT, align: 'center' })),
    txt(261.7, 511.7, 'Response', { size: 12.5, rot: ROT, align: 'center' }),
    txt(436.4, 647.2, 'Time (s)', { size: 12.5, align: 'center' }),
  ];
  const scales: any = {
    x: linAxis(0, 10000, [0, 2000, 4000, 6000, 8000, 10000], 0, 12, 5),
    y: linAxis(-0.32, 1.40, [0, 0.4, 0.8, 1.2], 1, 12, 5),
  };
  return mk(BOX_8C, AREA_8C, 'line', datasets, null, scales, items, {
    lw: 2, tl: 4, minor: { x: [1000, 3000, 5000, 7000, 9000], y: [-0.2, 0.2, 0.6, 1.0] },
  });
}

const BOX_8D = [590, 385, 395, 275], AREA_8D = [666.7, 404, 963.3, 617.3];
function build8d() {
  const pc = (c: string) => ({ pointRadius: 3.2, pointStyle: 'circle', pointBackgroundColor: c, pointBorderColor: c });
  const datasets = [
    ln(zipXY(DAYS_S650, D_S650), MAG, 2, { pointRadius: 3, pointStyle: 'rect', pointBackgroundColor: MAG, pointBorderColor: MAG }),
    ln(zipXY(DAYS, D_S550), BLK, 2, pc(BLK)),
    ln(zipXY(DAYS, D_S850), BLU, 2, { ...pc(BLU), errs: D_S850_ERR }),
    ln(zipXY(DAYS, D_S950), GRN, 2, { ...pc(GRN), errs: D_S950_ERR }),
    ln(zipXY(DAYS, D_S750), RED, 2, { ...pc(RED), errs: D_S750_ERR }),
  ];
  const items: any[] = [
    { t: 'leg', x1: 688, x2: 713, y: 502.7, color: BLK, w: 2, mk: 'circ', ms: 3 },
    txt(714.5, 502.7, 'S550 (180 ^{o}C, SO_{2})', { size: 10 }),
    { t: 'leg', x1: 688, x2: 713, y: 520.3, color: RED, w: 2, mk: 'circ', ms: 3 },
    txt(714.5, 520.3, 'S750 (165 ^{o}C, CO)', { size: 10 }),
    { t: 'leg', x1: 688, x2: 713, y: 535, color: GRN, w: 2, mk: 'circ', ms: 3 },
    txt(714.5, 535, 'S950 (165 ^{o}C, CO)', { size: 10 }),
    { t: 'leg', x1: 826.7, x2: 851.7, y: 502.7, color: MAG, w: 2, mk: 'sq', ms: 2.8 },
    txt(853.3, 502.7, 'S650 (180 ^{o}C, NH_{3})', { size: 10 }),
    { t: 'leg', x1: 826.7, x2: 851.7, y: 520.3, color: BLU, w: 2, mk: 'circ', ms: 3 },
    txt(853.3, 520.3, 'S850 (165 ^{o}C, CO)', { size: 10 }),
    txt(846.7, 535, 'gas at 90 ppm', { size: 10 }),
    txt(950, 412, '(d)', { size: 11, bold: true }),
    txt(626.7, 501.7, 'Response', { size: 12.5, rot: ROT, align: 'center' }),
    txt(813.3, 648.3, 'Days', { size: 12.5, align: 'center' }),
  ];
  const scales: any = {
    x: linAxis(-1.9, 66.9, [0, 5, 10, 15, 20, 25, 30, 35, 40, 45, 50, 55, 60, 65], 0, 11.5, 8),
    y: linAxis(0, 1.3, [0, 0.4, 0.8, 1.2], 1, 11.5, 9),
  };
  return mk(BOX_8D, AREA_8D, 'line', datasets, null, scales, items, { lw: 2.2, tl: 4, minor: { y: [0.2, 0.6, 1.0] } }, true);
}

const BOX_9A = [225, 930, 400, 300], AREA_9A = [289.3, 951.7, 603.5, 1179];
function build9a() {
  const datasets = [
    ln(xy(A_S650), MAG, 2.6),
    ln(xy(A_S550), BLK, 2.6),
    ln(xy(A_S850), BLU, 2.6),
    ln(xy(A_S950), GRN, 2.6),
    ln(xy(A_S750), RED, 2.6),
  ];
  const names = SAMPLES, cols = [BLK, MAG, RED, BLU, GRN];
  const ly = [966, 981.7, 997.3, 1013.3, 1029.3];
  const items: any[] = [
    { t: 'line', pts: [[356, 958], [356, 1171]], color: PUR, w: 3 },
    { t: 'line', pts: [[529.5, 960], [529.5, 1172.7]], color: PUR, w: 3 },
    { t: 'line', pts: [[366.7, 957], [366.7, 1121]], w: 1.6, dash: [4, 3] },
    { t: 'line', pts: [[535.7, 1137], [535.7, 1180]], w: 1.6, dash: [4, 3] },
    { t: 'line', pts: [[355, 983.3], [368, 983.3]], w: 1.2 },
    { t: 'line', pts: [[357, 1040.7], [368, 1040.7]], w: 1.2 },
    { t: 'line', pts: [[358, 1096], [369, 1096]], w: 1.2 },
    { t: 'line', pts: [[528, 1116.7], [538, 1116.7]], w: 1.2 },
    { t: 'line', pts: [[527, 1140], [537, 1140]], w: 1.2 },
    txt(296.7, 962.7, '(a)', { size: 13, bold: true }),
    txt(293.3, 995, '~{t}={res} = 45 s', { size: 13.5, color: RED }),
    txt(293.3, 1049.3, '~{t}={res}= 37 s', { size: 13.5, color: GRN }),
    txt(296.7, 1107.3, '~{t}={res}= 29 s', { size: 13.5, color: BLU }),
    txt(296.7, 1124, '~{t}={res} = 35 s', { size: 13.5, color: MAG }),
    txt(296.7, 1138.3, '~{t}={res}= 34 s', { size: 13.5 }),
    { t: 'curve', pts: [[327, 999], [352, 1010], [364, 983]], w: 1 },
    { t: 'curve', pts: [[326, 1053], [352, 1063], [362, 1041]], w: 1 },
    { t: 'curve', pts: [[328, 1112], [350, 1119], [357, 1097]], w: 1 },
    { t: 'curve', pts: [[533, 1092], [537, 1026], [547, 1026], [550, 1068]], w: 1 },
    { t: 'curve', pts: [[557, 1123], [543, 1118], [537, 1131]], w: 1 },
    txt(550, 1065, '~{t}={rec}= 42 s', { size: 13, color: RED }),
    txt(550, 1083.3, 't_{rec}= 24 s', { size: 13, color: BLU }),
    txt(550, 1100.7, '~{t}={rec}= 64 s', { size: 13, color: MAG }),
    txt(550, 1113.3, 't_{rec}= 51 s', { size: 13 }),
    txt(550, 1131.7, '~{t}={rec}= 32 s', { size: 13, color: GRN }),
    txt(430, 978.3, '165 °C, CO', { size: 11.5 }),
    arr([[432, 972], [430, 958.5]]),
    txt(428.3, 1033.3, '165 °C, CO', { size: 11.5 }),
    arr([[432, 1026], [430, 1011]]),
    txt(395.7, 1075, '180 °C, SO_{2}', { size: 11.5 }),
    arr([[397, 1067], [400, 1056.7]]),
    txt(373.3, 1119.3, '165 °C, CO', { size: 11.5 }),
    arr([[377, 1111], [383.3, 1098.3]]),
    txt(433.3, 1143.3, '180 °C, NH_{3}', { size: 11.5 }),
    arr([[440, 1135], [445, 1097]]),
    ...names.map((n, i) => ({ t: 'leg', x1: 537.3, x2: 568.3, y: ly[i], color: cols[i], w: 2.5, mk: 'circ', ms: 1.8 })),
    ...names.map((n, i) => txt(570.7, ly[i], n, { size: 13 })),
    txt(252.7, 1063.3, 'Response', { size: 12.5, rot: ROT, align: 'center' }),
    txt(447, 1214, 'Time (s)', { size: 12.5, align: 'center' }),
  ];
  const scales: any = {
    x: linAxis(0, 1200, [0, 200, 400, 600, 800, 1000, 1200], 0, 12.5, 7),
    y: linAxis(-0.1, 1.2, [0, 0.4, 0.8, 1.2], 1, 12.5, 6),
  };
  return mk(BOX_9A, AREA_9A, 'line', datasets, null, scales, items, {
    lw: 2.5, tl: 4, minor: { x: [100, 300, 500, 700, 900, 1100] },
  });
}

const BOX_9B = [590, 935, 425, 295], AREA_9B = [680, 954.3, 994.3, 1183.3];
function build9b() {
  const datasets = [
    ln(xy(B9_S650), MAG, 2),
    ln(xy(B9_S850), BLU, 2),
    ln(xy(B9_S550), BLK, 2),
    ln(xy(B9_S950), GRN, 2),
    ln(xy(B9_S750), RED, 2),
  ];
  const cols = [BLK, MAG, RED, BLU, GRN];
  const ly = [982.7, 998.3, 1014, 1030, 1045.7];
  const items: any[] = [
    txt(688.3, 967.3, '(b)', { size: 12.5, bold: true }),
    txt(743.3, 969.3, '165 °C, CO', { size: 11.5 }),
    arr([[775, 980], [800, 994]]),
    txt(706.7, 1027.7, '165 °C, CO', { size: 11.5 }),
    arr([[723.3, 1033.3], [790, 1046]]),
    txt(695, 1094, '165 °C, CO', { size: 11.5 }),
    arr([[715, 1099.3], [781.7, 1110.7]]),
    txt(810, 1156.7, '180 °C, NH_{3}', { size: 11.5 }),
    arr([[808.3, 1150], [780, 1127.3]]),
    txt(905, 1093.3, '180 °C, SO_{2}', { size: 11.5 }),
    { t: 'line', pts: [[903.3, 1091.7], [880, 1076.7]], w: 0.8 },
    txt(941.7, 965, '60%RH', { size: 12.5 }),
    ...SAMPLES.map((n, i) => ({ t: 'leg', x1: 927.3, x2: 956.7, y: ly[i], color: cols[i], w: 2.5 })),
    ...SAMPLES.map((n, i) => txt(959, ly[i], n, { size: 12.5 })),
    txt(641.7, 1058.3, 'Response', { size: 12.5, rot: ROT, align: 'center' }),
    txt(839, 1217.5, 'Time (s)', { size: 12.5, align: 'center' }),
  ];
  const scales: any = {
    x: linAxis(0, 1489, [0, 600, 1200], 0, 12.5, 6),
    y: linAxis(-0.021, 0.5, [0, 0.1, 0.2, 0.3, 0.4, 0.5], 1, 12.5, 4),
  };
  return mk(BOX_9B, AREA_9B, 'line', datasets, null, scales, items, { lw: 2.2, tl: 4, minor: { x: [300, 900] } });
}

const BOX_9C = [400, 1228, 415, 290], AREA_9C = [487.7, 1247.3, 793.7, 1472];
function build9c() {
  const datasets = [
    ln(xy(C9_S650), MAG, 3),
    ln(xy(C9_S850), BLU, 3),
    ln(xy(C9_S550), BLK, 3),
    ln(xy(C9_S750), RED, 3),
    ln(xy(C9_S950), GRN, 3),
  ];
  const cols = [BLK, MAG, RED, BLU, GRN];
  const ly = [1275.7, 1290.7, 1306, 1321.7, 1336.7];
  const items: any[] = [
    txt(493.3, 1260, '(c)', { size: 12, bold: true }),
    txt(521.7, 1260, '165 °C, CO', { size: 11.5 }),
    arr([[538.3, 1265], [588.3, 1267.3]]),
    txt(500.7, 1290, '165 °C, CO', { size: 11.5 }),
    arr([[525, 1296], [571.7, 1306]]),
    txt(499.3, 1342.3, '165 °C, CO', { size: 11.5 }),
    arr([[516, 1346.7], [570, 1359.3]]),
    txt(693.3, 1373.3, '180 °C, SO_{2}', { size: 11.5 }),
    arr([[693.3, 1366.7], [665, 1338.3]]),
    txt(601.7, 1415, '180 °C, NH_{3}', { size: 11.5 }),
    arr([[608.3, 1408.3], [581.7, 1385]]),
    txt(736.7, 1260.7, '90%RH', { size: 12.5 }),
    ...SAMPLES.map((n, i) => ({ t: 'leg', x1: 724.3, x2: 752.5, y: ly[i], color: cols[i], w: 4 })),
    ...SAMPLES.map((n, i) => txt(755.7, ly[i], n, { size: 12.5 })),
    txt(441.7, 1345, 'Response', { size: 12.5, rot: ROT, align: 'center' }),
    txt(617.6, 1503, 'Time (s)', { size: 12.5, align: 'center' }),
  ];
  const scales: any = {
    x: linAxis(0, 1496, [0, 600, 1200], 0, 12.5, 7),
    y: linAxis(-0.0195, 0.32, [0, 0.16, 0.32], 2, 12.5, 6),
  };
  return mk(BOX_9C, AREA_9C, 'line', datasets, null, scales, items, {
    lw: 3, tl: 4, minor: { x: [300, 900], y: [0.08, 0.24] },
  });
}

function Panel({ box, build }: { box: number[]; build: () => any }) {
  const ref = useRef<HTMLCanvasElement>(null);
  useEffect(() => {
    const chart = new Chart(ref.current as HTMLCanvasElement, build());
    return () => chart.destroy();
  }, []);
  const [x, y, w, h] = box;
  return <canvas ref={ref} width={w} height={h} style={{ position: 'absolute', left: x, top: y, width: w, height: h }} />;
}

// ---------------- html text ----------------
const SUB: any = { fontSize: '0.7em', verticalAlign: '-0.3em', lineHeight: 0 };
function rich(s: string) {
  const out: any[] = [];
  let buf = '';
  let i = 0;
  let k = 0;
  const flush = () => { if (buf) { out.push(buf); buf = ''; } };
  while (i < s.length) {
    if (s[i] === '_' && s[i + 1] === '{') {
      flush(); const e = s.indexOf('}', i);
      out.push(<span key={k++} style={SUB}>{s.slice(i + 2, e)}</span>); i = e + 1;
    } else if (s.startsWith('[[', i)) {
      flush(); const e = s.indexOf(']]', i);
      out.push(<span key={k++} style={{ color: '#2b7bbd' }}>{s.slice(i + 2, e)}</span>); i = e + 2;
    } else if (s.startsWith('**', i)) {
      flush(); const e = s.indexOf('**', i + 2);
      out.push(<b key={k++}>{s.slice(i + 2, e)}</b>); i = e + 2;
    } else { buf += s[i]; i++; }
  }
  flush();
  return out;
}

function TLine({ x, y, w, s, size, lh, just, center, italic, ls }: any) {
  return (
    <div style={{
      position: 'absolute', left: x, top: y - lh / 2, width: w, height: lh, lineHeight: lh + 'px',
      fontSize: size, fontFamily: SERIF, color: '#111', whiteSpace: 'normal', overflow: 'visible',
      letterSpacing: (ls || 0) + 'px',
      textAlign: center ? 'center' : just ? 'justify' : 'left', textAlignLast: center ? 'center' : just ? 'justify' : 'left',
      fontStyle: italic ? 'italic' : 'normal',
    } as any}>{rich(s)}</div>
  );
}

export default function App() {
  const LX = 76, RX = 639, CW = 526, BLH = 21.6;
  return (
    <div style={{ position: 'absolute', left: 0, top: 0, width: 1241, height: 1654, background: '#fff', overflow: 'hidden' }}>
      <TLine x={LX + 1} y={81} w={500} s={HEADER_L} size={13.5} lh={16} italic ls={0.35} />
      <div style={{ position: 'absolute', left: 561, top: 73, width: 600, textAlign: 'right', fontFamily: SERIF, fontStyle: 'italic', fontSize: 14, letterSpacing: '0.45px', lineHeight: '16px', color: '#111' }}>{HEADER_R}</div>

      <Panel box={BOX_8A} build={build8a} />
      <Panel box={BOX_8B} build={build8b} />
      <Panel box={BOX_8C} build={build8c} />
      <Panel box={BOX_8D} build={build8d} />

      {CAP8.map((s, i) => (
        <TLine key={'c' + i} x={LX} y={683 + 20 * i} w={1085} s={s} size={13.5} lh={18} ls={0.55} just={i < CAP8.length - 1} />
      ))}

      {BODY_L.map((s, i) => (
        <TLine key={'l' + i} x={i === 5 ? LX + 25 : LX} y={769.5 + BLH * i} w={i === 5 ? CW - 25 : CW} s={s} size={16.5} lh={20} ls={0.2} just={i !== 4} />
      ))}
      {BODY_R.map((s, i) => (
        <TLine key={'r' + i} x={RX} y={769.5 + BLH * i} w={522} s={s} size={16.5} lh={20} ls={0.2} just />
      ))}

      <Panel box={BOX_9A} build={build9a} />
      <Panel box={BOX_9B} build={build9b} />
      <Panel box={BOX_9C} build={build9c} />

      <TLine x={100} y={1539} w={1040} s={CAP9} size={13.5} lh={18} ls={1.25} center />
      <TLine x={570} y={1611} w={100} s={'10'} size={12.5} lh={16} center />
    </div>
  );
}
